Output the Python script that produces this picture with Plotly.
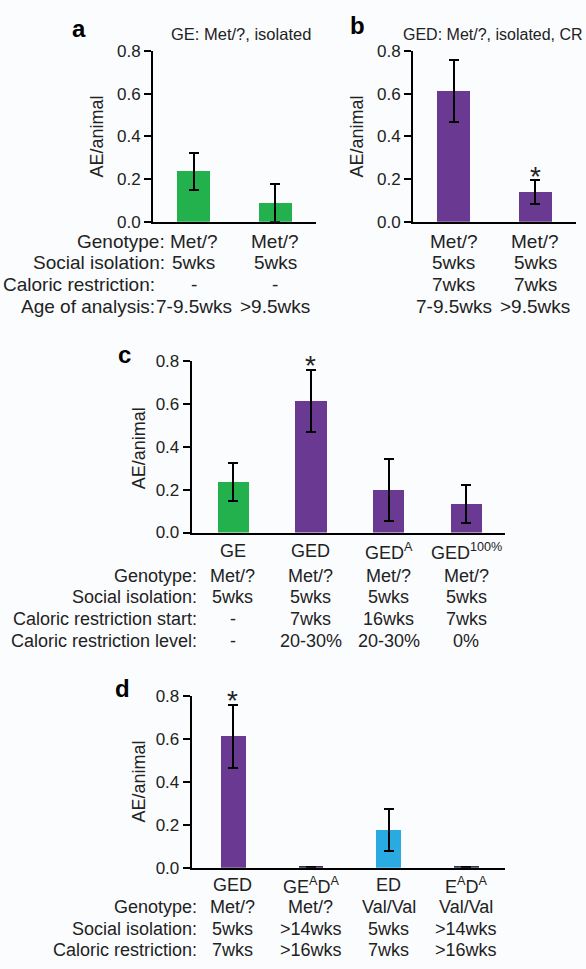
import plotly.graph_objects as go

W, H = 586, 969

# ---------------- data ----------------
a_categories = ["Met/? 7-9.5wks", "Met/? >9.5wks"]
a_values = [0.235, 0.088]
a_err = [0.087, 0.090]

b_categories = ["Met/? 7-9.5wks", "Met/? >9.5wks"]
b_values = [0.613, 0.140]
b_err = [0.145, 0.058]

c_categories = ["GE", "GED", "GED<sup>A</sup>", "GED<sup>100%</sup>"]
c_values = [0.235, 0.612, 0.198, 0.133]
c_err = [0.087, 0.145, 0.146, 0.090]

d_categories = ["GED", "GE<sup>A</sup>D<sup>A</sup>", "ED", "E<sup>A</sup>D<sup>A</sup>"]
d_values = [0.612, 0.004, 0.176, 0.004]
d_err = [0.147, 0.0, 0.097, 0.0]

a_row_labels = ["Genotype:", "Social isolation:", "Caloric restriction:", "Age of analysis:"]
a_rows = [["Met/?", "Met/?"], ["5wks", "5wks"], ["-", "-"], ["7-9.5wks", ">9.5wks"]]
b_rows = [["Met/?", "Met/?"], ["5wks", "5wks"], ["7wks", "7wks"], ["7-9.5wks", ">9.5wks"]]

c_row_labels = ["Genotype:", "Social isolation:", "Caloric restriction start:", "Caloric restriction level:"]
c_rows = [["Met/?", "Met/?", "Met/?", "Met/?"],
          ["5wks", "5wks", "5wks", "5wks"],
          ["-", "7wks", "16wks", "7wks"],
          ["-", "20-30%", "20-30%", "0%"]]

d_row_labels = ["Genotype:", "Social isolation:", "Caloric restriction:"]
d_rows = [["Met/?", "Met/?", "Val/Val", "Val/Val"],
          ["5wks", ">14wks", "5wks", ">14wks"],
          ["7wks", ">16wks", "7wks", ">16wks"]]

a_title = "GE: Met/?, isolated"
b_title = "GED: Met/?, isolated, CR"
y_title = "AE/animal"
y_ticks = [0.0, 0.2, 0.4, 0.6, 0.8]

GREEN = "#22b14c"
PURPLE = "#6a3a92"
BLUE = "#29abe2"
a_colors = [GREEN, GREEN]
b_colors = [PURPLE, PURPLE]
c_colors = [GREEN, PURPLE, PURPLE, PURPLE]
d_colors = [PURPLE, "#3a2a4a", BLUE, "#2a3a4a"]

FONT = "Liberation Sans, Arial, Helvetica, sans-serif"
TXT = "#222222"
BG = "#fbfcfe"

def px(x):
    return x / W

def py(y):
    return 1 - y / H

fig = go.Figure()

panels = [
    ("x", "y", a_values, a_err, a_colors, 0.40),
    ("x2", "y2", b_values, b_err, b_colors, 0.40),
    ("x3", "y3", c_values, c_err, c_colors, 0.40),
    ("x4", "y4", d_values, d_err, d_colors, 0.32),
]
for xa, ya, vals, errs, cols, bw in panels:
    fig.add_trace(go.Bar(
        x=list(range(len(vals))), y=vals, xaxis=xa, yaxis=ya,
        width=bw, marker=dict(color=cols, line=dict(width=0)),
        error_y=dict(type="data", array=errs, visible=True, color="black",
                     thickness=2, width=5),
        showlegend=False, hoverinfo="skip",
    ))

def xax(domain, rng):
    return dict(domain=domain, range=rng, showline=True, linecolor="black",
                linewidth=2, showticklabels=False, ticks="", showgrid=False,
                zeroline=False, fixedrange=True)

def yax(domain, anchor):
    return dict(domain=domain, range=[0, 0.8], anchor=anchor, showline=True,
                linecolor="black", linewidth=2, ticks="outside", ticklen=7,
                tickwidth=1.5, tickcolor="black", tickvals=y_ticks,
                tickformat=".1f", tickfont=dict(size=17, color=TXT, family=FONT),
                showgrid=False, zeroline=False, fixedrange=True)

yab = [py(217), py(43)]
yc = [py(534), py(359)]
yd = [py(876), py(701)]
fig.update_layout(
    xaxis=dict(**xax([px(153), px(316)], [-0.5, 1.5]), anchor="y"),
    yaxis=yax(yab, "x"),
    xaxis2=dict(**xax([px(413), px(576)], [-0.5, 1.5]), anchor="y2"),
    yaxis2=yax(yab, "x2"),
    xaxis3=dict(**xax([px(191.7), px(504.5)], [-0.528, 3.49]), anchor="y3"),
    yaxis3=yax(yc, "x3"),
    xaxis4=dict(**xax([px(191.7), px(504.5)], [-0.528, 3.49]), anchor="y4"),
    yaxis4=yax(yd, "x4"),
)

ann = []

def text(x, y, s, size, xref="paper", xanchor="center", bold=False, angle=0):
    ann.append(dict(x=x, y=y, xref=xref, yref="paper", text=("<b>%s</b>" % s) if bold else s,
                    showarrow=False, xanchor=xanchor, yanchor="middle",
                    textangle=angle, borderpad=0,
                    font=dict(size=size, color=TXT if not bold else "black", family=FONT)))

# panel letters
text(px(79), py(20), "a", 24, bold=True)
text(px(357), py(17), "b", 24, bold=True)
text(px(124), py(352), "c", 24, bold=True)
text(px(123), py(693), "d", 24, bold=True)

# titles
text(px(241), py(26), a_title, 16.5)
text(px(584), py(26), b_title, 16, xanchor="right")

# y titles
text(px(97), py(130), y_title, 18, angle=-90)
text(px(357), py(130), y_title, 18, angle=-90)
text(px(139), py(448), y_title, 18, angle=-90)
text(px(139), py(788), y_title, 18, angle=-90)

# stars
text(1, py(171), "*", 28, xref="x2")
text(1, py(364), "*", 28, xref="x3")
text(0, py(705), "*", 28, xref="x4")

# panel a/b tables
ab_rows_y = [237, 259, 281, 303]
ab_label_right = [166, 166, 156, 156]
for lab, yy, xr in zip(a_row_labels, ab_rows_y, ab_label_right):
    text(px(xr), py(yy), lab, 19, xanchor="right")
for row, yy in zip(a_rows, ab_rows_y):
    for i, s in enumerate(row):
        text(i, py(yy), s, 19, xref="x")
for row, yy in zip(b_rows, ab_rows_y):
    for i, s in enumerate(row):
        text(i, py(yy), s, 19, xref="x2")

# panel c
for i, s in enumerate(c_categories):
    text(i, py(553), s, 18, xref="x3")
c_rows_y = [578, 600, 622, 645]
for lab, yy in zip(c_row_labels, c_rows_y):
    text(px(198), py(yy), lab, 18, xanchor="right")
for row, yy in zip(c_rows, c_rows_y):
    for i, s in enumerate(row):
        text(i, py(yy), s, 18, xref="x3")

# panel d
for i, s in enumerate(d_categories):
    text(i, py(894), s, 18, xref="x4")
d_rows_y = [916, 938, 960]
for lab, yy in zip(d_row_labels, d_rows_y):
    text(px(198), py(yy), lab, 18, xanchor="right")
for row, yy in zip(d_rows, d_rows_y):
    for i, s in enumerate(row):
        text(i, py(yy), s, 18, xref="x4")

fig.update_layout(
    width=W, height=H, margin=dict(l=0, r=0, t=0, b=0),
    paper_bgcolor=BG, plot_bgcolor=BG, annotations=ann,
    font=dict(family=FONT, color=TXT), bargap=0,
)

fig.write_html(
    "out.html",
    config={"displayModeBar": False},
    post_script=(
        "document.documentElement.style.margin='0';"
        "document.documentElement.style.padding='0';"
        "document.documentElement.style.overflow='hidden';"
        "document.body.style.margin='0';"
        "document.body.style.padding='0';"
        "document.body.style.overflow='hidden';"
        "document.body.style.background='%s';" % BG
    ),
)
